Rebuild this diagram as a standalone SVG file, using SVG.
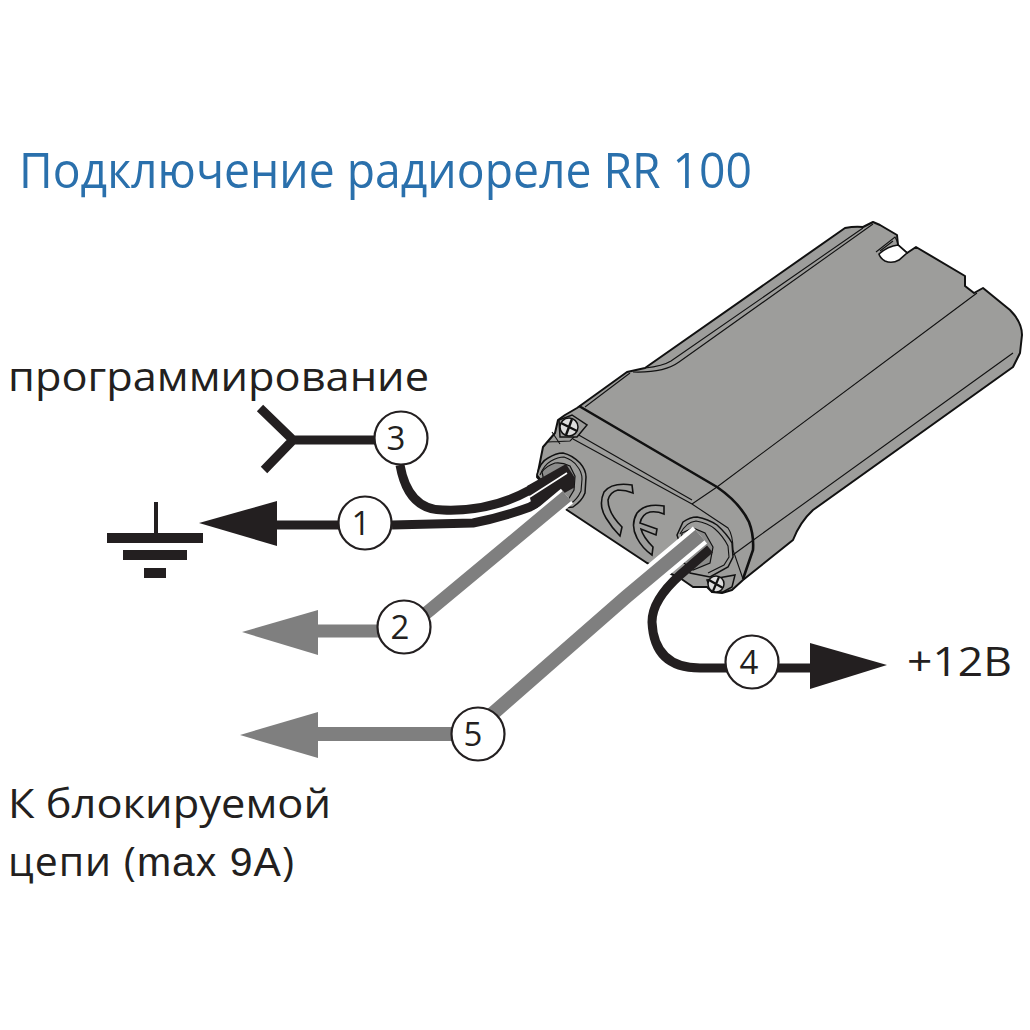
<svg xmlns="http://www.w3.org/2000/svg" width="1030" height="1030" viewBox="0 0 1030 1030">
<style>
text{font-family:"Open Sans","Noto Sans","Liberation Sans",sans-serif;fill:#231f20}
.lab{font-size:41px}
.num{font-size:33px;text-anchor:middle}
.c{fill:#fff;stroke:#231f20;stroke-width:2.2}
.bk{fill:none;stroke:#231f20;stroke-width:9}
.gr{fill:none;stroke:#7f7f7f;stroke-width:13}
.wh{fill:none;stroke:#fff;stroke-width:22}
.e{fill:none;stroke:#111;stroke-width:1.1}
.e2{fill:none;stroke:#111;stroke-width:2.6}
.b{fill:#9d9d9b;stroke:#111;stroke-width:1.5}
</style>
<rect width="1030" height="1030" fill="#fff"/>
<text x="19" y="188" font-size="50" style="fill:#2a70ac" textLength="733" lengthAdjust="spacingAndGlyphs">Подключение радиореле RR 100</text>
<text class="lab" x="8" y="391" textLength="421" lengthAdjust="spacingAndGlyphs">программирование</text>
<text class="lab" x="907" y="676" textLength="105" lengthAdjust="spacingAndGlyphs">+12В</text>
<text class="lab" x="8" y="818" textLength="323" lengthAdjust="spacingAndGlyphs">К блокируемой</text>
<text class="lab" x="8" y="876" textLength="286" lengthAdjust="spacing">цепи (<tspan font-family="Liberation Sans">max 9A</tspan>)</text>
<g id="relay">
<path fill="#9d9d9b" stroke="#111" stroke-width="2" stroke-linejoin="round" d="M845 228Q855 226 863 227L873 222L880 225L897 235L898 245L907 253L916 247L965 276L965 286L974 293L983 288L1010 310Q1022 322 1022 335L1020 353L1013 367L813 510Q800 522 793 540L743 580L732 590L722 593L712 592L707 587L693 587L680 578L647 563L567 510L537 477L543 447L555 433L558 420L565 415L577 408L627 372L645 368Z"/>
<path fill="#fff" stroke="#111" stroke-width="1.6" d="M898 245L907 253L899 260Q892 264 885 261Q880 258 879 254Q888 246 898 245Z"/>
<path class="e" d="M876 252L895 237Q897 240 898 245M880 251L893 241"/>
<path class="e" d="M645 368Q663 366 671 361L863 228M633 372Q664 373 679 362L873 224M585 407L630 373"/>
<path class="e" d="M977 293L717 487L692 504M1013 353L752 541L730 557"/>
<path class="e2" d="M579 406L717 487Q740 503 749 522Q754 535 753 550L743 579"/>
<path class="e" d="M573 439L692 504L728 528Q733 535 733 550L743 579"/>
<path class="e" d="M577 434L692 500"/>
<path class="e" d="M547 442L570 441L577 434M552 432L560 444"/>
<g id="screw-top"><path fill="#9d9d9b" stroke="#111" stroke-width="1.5" d="M559 420L572 415L587 425L577 437L560 437Z"/><circle cx="569" cy="427" r="9" fill="#ddd" stroke="#111" stroke-width="1.5"/><path fill="none" stroke="#111" stroke-width="2.4" d="M561 423L577 431M572 419L566 435"/></g>
<g id="gland-left"><path class="b" d="M537 475Q540 462 548 458Q556 453 563 453Q572 455 580 463Q586 470 586 477L585 493Q582 501 573 507L563 508Z"/><path class="e" d="M540 475Q544 465 551 461Q558 457 564 457Q573 460 577 466Q582 472 582 479L581 491Q577 500 570 504L562 505"/><path fill="#8c8c8b" stroke="#111" stroke-width="1.2" d="M542 472Q546 466 555 463Q562 462 570 466L575 476L574 490L568 500L558 504L546 490Z"/></g>
<g id="gland-right"><path class="b" d="M677 535L683 522Q690 517 697 517Q708 519 717 525Q727 534 732 543L733 557L728 567L710 577L690 573Z"/><path class="e" d="M680 534Q686 522 696 521Q708 523 715 529Q723 536 728 546L729 557L724 565L708 573"/><path fill="#8c8c8b" stroke="#111" stroke-width="1.2" d="M682 533L693 528L705 533L713 547L710 563L693 570L680 560Z"/></g>
<g id="screw-bottom"><path fill="#9d9d9b" stroke="#111" stroke-width="1.5" d="M707 580L735 575L732 587L723 592L712 592Z"/><circle cx="716" cy="584" r="8" fill="#ddd" stroke="#111" stroke-width="1.5"/><path fill="none" stroke="#111" stroke-width="2.2" d="M709 580L723 588M719 577L713 591"/></g>
<g id="ce" fill="#9d9d9b" stroke="#111" stroke-width="1.6"><path d="M632 485Q612 482 604 492Q598 505 606 518Q612 528 620 536L622 527Q608 513 608 500Q610 492 618 490Q626 490 633 493Z"/><path d="M664 506Q645 503 637 513Q630 525 637 538Q642 548 652 555L653 547Q643 537 641 529L656 535L657 529L640 523Q642 514 650 512Q657 511 664 514Z"/></g>
</g>
<g id="connectors">
<path class="bk" d="M378 440H293L260 408M293 440L264 470"/>
<path class="bk" d="M400 465Q408 510 443 510Q490 512 530 490L568 470"/>
<path class="bk" d="M277 525H350M392 525L473 523Q500 518 530 507L573 483"/>
<path fill="#231f20" d="M527 486L566 464L575 478L574 486L533 510Z"/>
<path fill="none" stroke="#fff" stroke-width="1.6" d="M528 498L567 473"/>
<path class="wh" style="stroke-width:19" d="M567 496L500 552"/>
<path class="gr" d="M567 496L430 610L404 631H318"/>
<path class="bk" d="M710 549L680 575Q652 600 652 622Q654 668 700 668H815"/>
<path class="wh" d="M700 535L626 597L580 637"/>
<path class="gr" style="stroke-width:14" d="M700 535L626 597L490 716L478 734H318"/>
<path fill="#231f20" d="M199 523L277 501V546Z"/>
<path fill="#7f7f7f" d="M242 632L318 610V655Z"/>
<path fill="#7f7f7f" d="M240 735L318 712V758Z"/>
<path fill="#231f20" d="M887 665L810 643V689Z"/>
</g>
<g id="ground" fill="#231f20"><rect x="154" y="502" width="4" height="31"/><rect x="107" y="533" width="96" height="10"/><rect x="123" y="550" width="64" height="10"/><rect x="144" y="568" width="22" height="10"/></g>
<g id="n3"><circle class="c" cx="401" cy="438" r="26.5"/><text class="num" x="396" y="450">3</text></g>
<g id="n1"><circle class="c" cx="365" cy="523" r="26.5"/><text class="num" x="361" y="535">1</text></g>
<g id="n2"><circle class="c" cx="404" cy="627" r="26.5"/><text class="num" x="400" y="639">2</text></g>
<g id="n5"><circle class="c" cx="478" cy="734" r="26.5"/><text class="num" x="473" y="746">5</text></g>
<g id="n4"><circle class="c" cx="752" cy="662" r="26.5"/><text class="num" x="749" y="674">4</text></g>
</svg>
